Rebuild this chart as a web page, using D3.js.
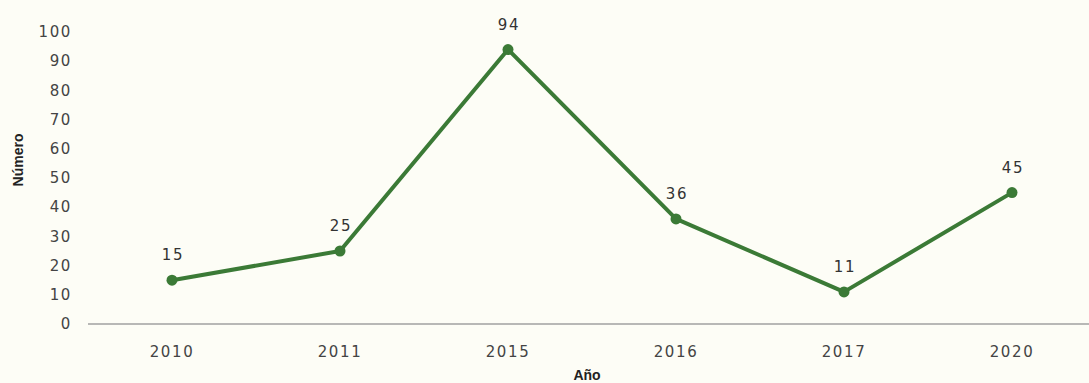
<!DOCTYPE html>
<html>
<head>
<meta charset="utf-8">
<script src="https://cdn.jsdelivr.net/npm/d3@7"></script>
<style>
  body { margin: 0; background: #fdfdf6; }
  svg { display: block; }
  .tick-label { font-family: "DejaVu Sans", sans-serif; font-size: 15px; fill: #444; letter-spacing: 1.6px; }
  .val-label { font-family: "DejaVu Sans", sans-serif; font-size: 15px; fill: #333; letter-spacing: 1.6px; }
  .axis-title { font-family: "Liberation Sans", Arial, sans-serif; font-size: 14px; font-weight: bold; fill: #222; }
</style>
</head>
<body>
<svg id="chart" width="1089" height="383"></svg>
<script>
// data
const years = ["2010", "2011", "2015", "2016", "2017", "2020"];
const counts = [15, 25, 94, 36, 11, 45];
const yTicks = [0, 10, 20, 30, 40, 50, 60, 70, 80, 90, 100];

let svg = d3.select("#chart");

let x = d3.scaleBand().domain(years).range([88, 1096]);
let y = d3.scaleLinear().domain([0, 100]).range([324, 32]);

let green = "#3b7a36";

// baseline
svg.append("line")
    .attr("x1", 88).attr("x2", 1089)
    .attr("y1", y(0)).attr("y2", y(0))
    .attr("stroke", "#a0a0a0")
    .attr("stroke-width", 1.5);

// y tick labels
svg.selectAll(".ytick")
    .data(yTicks)
    .enter().append("text")
    .attr("class", "tick-label")
    .attr("x", 72)
    .attr("y", d => y(d))
    .attr("dy", "0.35em")
    .attr("text-anchor", "end")
    .text(d => d);

// x tick labels
svg.selectAll(".xtick")
    .data(years)
    .enter().append("text")
    .attr("class", "tick-label")
    .attr("x", d => x(d) + x.bandwidth() / 2)
    .attr("y", 357)
    .attr("text-anchor", "middle")
    .text(d => d);

// axis titles
svg.append("text")
    .attr("class", "axis-title")
    .attr("x", 587)
    .attr("y", 380)
    .attr("text-anchor", "middle")
    .text("Año");

svg.append("text")
    .attr("class", "axis-title")
    .attr("transform", "translate(23,160) rotate(-90)")
    .attr("text-anchor", "middle")
    .text("Número");

let pts = years.map((yr, i) => ({year: yr, value: counts[i]}));

let line = d3.line()
    .x(d => x(d.year) + x.bandwidth() / 2)
    .y(d => y(d.value));

svg.append("path")
    .datum(pts)
    .attr("d", line)
    .attr("fill", "none")
    .attr("stroke", green)
    .attr("stroke-width", 4)
    .attr("stroke-linejoin", "round");

svg.selectAll(".dot")
    .data(pts)
    .enter().append("circle")
    .attr("cx", d => x(d.year) + x.bandwidth() / 2)
    .attr("cy", d => y(d.value))
    .attr("r", 5.5)
    .attr("fill", green);

svg.selectAll(".val")
    .data(pts)
    .enter().append("text")
    .attr("class", "val-label")
    .attr("x", d => x(d.year) + x.bandwidth() / 2 + 1)
    .attr("y", d => y(d.value) - 20)
    .attr("text-anchor", "middle")
    .text(d => d.value);
</script>
</body>
</html>
